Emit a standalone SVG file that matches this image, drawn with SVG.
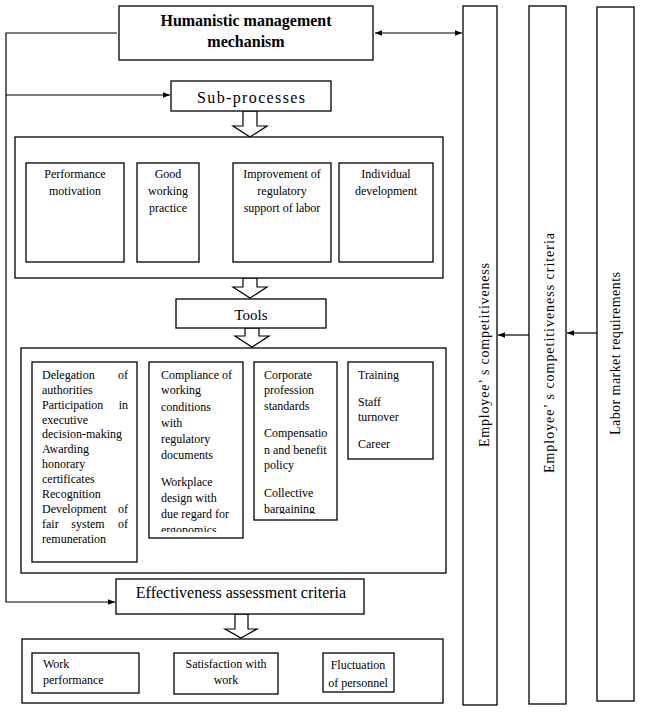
<svg xmlns="http://www.w3.org/2000/svg" width="655" height="722" viewBox="0 0 655 722">
<style>
rect{fill:#fff;stroke:#000;stroke-width:1.3}
text{font-family:"Liberation Serif","Times New Roman",serif;font-size:12px;fill:#000}
.c{text-anchor:middle}
.e{text-anchor:end}
.big{font-size:16px}
.v{font-size:14px}
.ln{fill:none;stroke:#000;stroke-width:1.2}
.ha{fill:#fff;stroke:#000;stroke-width:1.2}
</style>
<defs>
<marker id="ah" viewBox="0 0 10 10" refX="10" refY="5" markerWidth="7" markerHeight="7" markerUnits="userSpaceOnUse" orient="auto-start-reverse"><path d="M0 1 L10 5 L0 9 z" fill="#000"/></marker>
<clipPath id="c2"><rect x="149" y="362" width="94" height="170"/></clipPath>
<clipPath id="c3"><rect x="254" y="362" width="83" height="152"/></clipPath>
<clipPath id="c5"><rect x="323" y="653" width="71" height="38"/></clipPath>
</defs>

<g id="connectors">
<path class="ln" d="M117 33 H6 V602 H115" marker-end="url(#ah)"/>
<path class="ln" d="M6 95 H170" marker-end="url(#ah)"/>
<path class="ln" d="M375 33 H462" marker-start="url(#ah)" marker-end="url(#ah)"/>
<path class="ln" d="M529 335 H498" marker-end="url(#ah)"/>
<path class="ln" d="M597 333 H567" marker-end="url(#ah)"/>
<polygon class="ha" points="243,111 257,111 257,126 267,126 250,137 233,126 243,126"/>
<polygon class="ha" points="243,278 257,278 257,287 267,287 250,298 233,287 243,287"/>
<polygon class="ha" points="245,328 259,328 259,336 269,336 252,347 235,336 245,336"/>
<polygon class="ha" points="235,614 248,614 248,629 257,629 241,638 225,629 235,629"/>
</g>

<g id="humanistic">
<rect x="119" y="6" width="254" height="54"/>
<text class="c big" x="246" y="26" font-weight="bold">Humanistic management</text>
<text class="c big" x="246" y="47" font-weight="bold">mechanism</text>
</g>

<g id="subprocesses">
<rect x="171" y="81" width="160" height="30"/>
<text class="c big" x="251" y="103" textLength="108" lengthAdjust="spacing">Sub-processes</text>
</g>

<g id="subprocess-group">
<rect x="15" y="137" width="428" height="141"/>
<g id="sp-performance">
<rect x="26" y="163" width="98" height="99"/>
<text class="c" x="75" y="178">Performance</text>
<text class="c" x="75" y="195">motivation</text>
</g>
<g id="sp-good">
<rect x="137" y="163" width="62" height="99"/>
<text class="c" x="168" y="178">Good</text>
<text class="c" x="168" y="195">working</text>
<text class="c" x="168" y="212">practice</text>
</g>
<g id="sp-improvement">
<rect x="233" y="163" width="98" height="99"/>
<text class="c" x="282" y="178">Improvement of</text>
<text class="c" x="282" y="195">regulatory</text>
<text class="c" x="282" y="212">support of labor</text>
</g>
<g id="sp-individual">
<rect x="339" y="163" width="94" height="99"/>
<text class="c" x="386" y="178">Individual</text>
<text class="c" x="386" y="195">development</text>
</g>
</g>

<g id="tools">
<rect x="176" y="299" width="150" height="29"/>
<text class="c" x="251" y="320" style="font-size:15px">Tools</text>
</g>

<g id="tools-group">
<rect x="21" y="348" width="425" height="225"/>
<g id="tool-1">
<rect x="32" y="362" width="105" height="200"/>
<text x="42" y="379">Delegation</text><text class="e" x="128" y="379">of</text>
<text x="42" y="394">authorities</text>
<text x="42" y="409">Participation</text><text class="e" x="128" y="409">in</text>
<text x="42" y="424">executive</text>
<text x="42" y="438">decision-making</text>
<text x="42" y="453">Awarding</text>
<text x="42" y="468">honorary</text>
<text x="42" y="483">certificates</text>
<text x="42" y="498">Recognition</text>
<text x="42" y="513">Development</text><text class="e" x="128" y="513">of</text>
<text x="42" y="528">fair</text><text class="c" x="88" y="528">system</text><text class="e" x="128" y="528">of</text>
<text x="42" y="543">remuneration</text>
</g>
<g id="tool-2">
<rect x="149" y="362" width="94" height="176"/>
<g clip-path="url(#c2)">
<text x="161" y="379">Compliance of</text>
<text x="161" y="394">working</text>
<text x="161" y="411">conditions</text>
<text x="161" y="427">with</text>
<text x="161" y="443">regulatory</text>
<text x="161" y="459">documents</text>
<text x="161" y="486">Workplace</text>
<text x="161" y="502">design with</text>
<text x="161" y="518">due regard for</text>
<text x="161" y="534">ergonomics</text>
</g>
</g>
<g id="tool-3">
<rect x="254" y="362" width="83" height="158"/>
<g clip-path="url(#c3)">
<text x="264" y="379">Corporate</text>
<text x="264" y="394">profession</text>
<text x="264" y="410">standards</text>
<text x="264" y="437">Compensatio</text>
<text x="264" y="454">n and benefit</text>
<text x="264" y="469">policy</text>
<text x="264" y="497">Collective</text>
<text x="264" y="513">bargaining</text>
</g>
</g>
<g id="tool-4">
<rect x="348" y="362" width="85" height="97"/>
<text x="358" y="379">Training</text>
<text x="358" y="406">Staff</text>
<text x="358" y="421">turnover</text>
<text x="358" y="448">Career</text>
</g>
</g>

<g id="effectiveness">
<rect x="116" y="579" width="248" height="35"/>
<text class="c big" x="241" y="598">Effectiveness assessment criteria</text>
</g>

<g id="effectiveness-group">
<rect x="22" y="639" width="421" height="64"/>
<g id="ef-work">
<rect x="32" y="653" width="107" height="40"/>
<text x="43" y="668">Work</text>
<text x="43" y="684">performance</text>
</g>
<g id="ef-satisfaction">
<rect x="174" y="653" width="104" height="41"/>
<text class="c" x="226" y="668">Satisfaction with</text>
<text class="c" x="226" y="684">work</text>
</g>
<g id="ef-fluctuation">
<rect x="323" y="653" width="71" height="39"/>
<g clip-path="url(#c5)">
<text class="c" x="358" y="669">Fluctuation</text>
<text class="c" x="358" y="687">of personnel</text>
</g>
</g>
</g>

<g id="employee-competitiveness">
<rect x="463" y="6" width="34" height="699"/>
<text class="v" transform="translate(489,447) rotate(-90)" textLength="184" lengthAdjust="spacing">Employee’  s competitiveness</text>
</g>
<g id="competitiveness-criteria">
<rect x="529" y="6" width="37" height="698"/>
<text class="v" transform="translate(554,473) rotate(-90)" textLength="240" lengthAdjust="spacing">Employee’  s competitiveness  criteria</text>
</g>
<g id="labor-market">
<rect x="597" y="7" width="37" height="694"/>
<text class="v" transform="translate(620,435) rotate(-90)" textLength="163" lengthAdjust="spacing">Labor market requirements</text>
</g>
</svg>
